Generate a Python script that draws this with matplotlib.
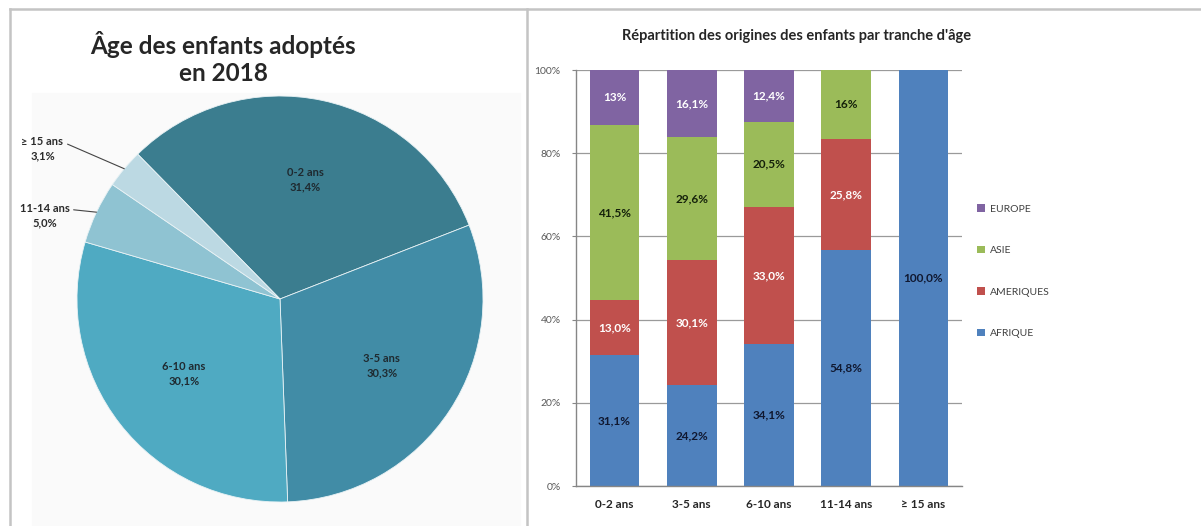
import numpy as np
import matplotlib
matplotlib.use("Agg")
import matplotlib.pyplot as plt
from matplotlib.lines import Line2D
from matplotlib.patches import Rectangle, Patch

plt.rcParams['font.family'] = ['Lato', 'DejaVu Sans']

# --- pie data ---
age_groups = ['0-2 ans', '3-5 ans', '6-10 ans', '11-14 ans', '≥ 15 ans']
age_shares = [31.4, 30.3, 30.1, 5.0, 3.1]
age_labels = ['31,4%', '30,3%', '30,1%', '5,0%', '3,1%']
pie_colors = ['#3b7d8f', '#418ca6', '#4faac2', '#8fc3d2', '#bcd9e3']

# --- stacked bar data (Excel 100% stacked) ---
categories = ['0-2 ans', '3-5 ans', '6-10 ans', '11-14 ans', '≥ 15 ans']
afrique = [31.1, 24.2, 34.1, 54.8, 100.0]
ameriques = [13.0, 30.1, 33.0, 25.8, 0.0]
asie = [41.5, 29.6, 20.5, 16.0, 0.0]
europe = [13.0, 16.1, 12.4, 0.0, 0.0]
afrique_txt = ['31,1%', '24,2%', '34,1%', '54,8%', '100,0%']
ameriques_txt = ['13,0%', '30,1%', '33,0%', '25,8%', '']
asie_txt = ['41,5%', '29,6%', '20,5%', '16%', '']
europe_txt = ['13%', '16,1%', '12,4%', '', '']

W, H = 1201, 526
fig = plt.figure(figsize=(W / 100, H / 100), dpi=100)

def px(x0, y0, w, h):
    # pixel box (top-left origin) -> figure fraction rect
    return [x0 / W, 1 - (y0 + h) / H, w / W, h / H]

# panel frame lines and faint pie background
fig.add_artist(Rectangle((32 / W, 0), (520 - 32) / W, 1 - 93 / H,
                         transform=fig.transFigure, color='#fafafa', zorder=-5))
for xs, ys in [([10 / W, 1], [1 - 9 / H, 1 - 9 / H]),
               ([10 / W, 10 / W], [0, 1 - 9 / H]),
               ([527 / W, 527 / W], [0, 1 - 9 / H])]:
    fig.add_artist(Line2D(xs, ys, color='#c4c4c4', lw=1.8, transform=fig.transFigure))

# ---------------- pie ----------------
ax1 = fig.add_axes(px(77, 96, 406, 406))
ax1.set_facecolor('none')
start = 134.5
wedges, _ = ax1.pie(age_shares, colors=pie_colors, startangle=start, counterclock=False,
                    radius=1, wedgeprops=dict(edgecolor='#e8f2f5', linewidth=0.6))
ax1.set_xlim(-1, 1)
ax1.set_ylim(-1, 1)
ax1.axis('off')

for i, w in enumerate(wedges):
    mid = np.deg2rad((w.theta1 + w.theta2) / 2)
    if i < 3:
        r = 0.6
        ax1.text(r * np.cos(mid), r * np.sin(mid), f"{age_groups[i]}\n{age_labels[i]}",
                 ha='center', va='center', fontsize=8, fontweight='bold',
                 color='#1f2a30', linespacing=1.4)
    else:
        ex, ey = np.cos(mid), np.sin(mid)
        off = (-1.17, 0.74) if i == 4 else (-1.16, 0.41)
        ax1.annotate(f"{age_groups[i]}\n{age_labels[i]}", xy=(ex, ey), xytext=off,
                     ha='center', va='center', fontsize=8, fontweight='bold',
                     color='#2a2a2a', linespacing=1.4, annotation_clip=False,
                     arrowprops=dict(arrowstyle='-', color='#444444', lw=0.8,
                                     relpos=(1.0, 0.75), shrinkA=1, shrinkB=0))

fig.text(223 / W, 1 - 58 / H, "Âge des enfants adoptés\nen 2018", ha='center', va='center',
         fontsize=17.5, fontweight='bold', color='#262626', linespacing=1.25)

# ---------------- stacked bars ----------------
ax2 = fig.add_axes(px(576, 70, 386, 416))
x = np.arange(len(categories))
series = [afrique, ameriques, asie, europe]
texts = [afrique_txt, ameriques_txt, asie_txt, europe_txt]
names = ['AFRIQUE', 'AMERIQUES', 'ASIE', 'EUROPE']
colors = ['#4f81bd', '#c0504d', '#9bbb59', '#8064a2']
txt_colors = ['#101830', 'white', '#14200a', 'white']

data = np.array(series, dtype=float)
totals = data.sum(axis=0)
norm = data / totals * 100
bottom = np.zeros(len(categories))
for k in range(4):
    ax2.bar(x, norm[k], width=0.64, bottom=bottom, color=colors[k], zorder=2)
    for j in range(len(categories)):
        if texts[k][j]:
            ax2.text(x[j], bottom[j] + norm[k][j] / 2, texts[k][j], ha='center', va='center',
                     fontsize=8.5, fontweight='bold', color=txt_colors[k], zorder=3)
    bottom += norm[k]

ax2.set_xlim(-0.5, len(categories) - 0.5)
ax2.set_ylim(0, 100)
ax2.set_yticks(np.arange(0, 101, 20))
ax2.set_yticklabels([f"{v}%" for v in range(0, 101, 20)], fontsize=7.5, color='#595959')
ax2.set_xticks(x)
ax2.set_xticklabels(categories, fontsize=8.5, fontweight='bold', color='#262626')
ax2.tick_params(axis='x', length=0, pad=9)
ax2.tick_params(axis='y', length=3, color='#868686', pad=8)
ax2.grid(axis='y', color='#9a9a9a', lw=0.9, zorder=0)
ax2.set_axisbelow(True)
for s in ['top', 'right']:
    ax2.spines[s].set_visible(False)
for s in ['left', 'bottom']:
    ax2.spines[s].set_color('#868686')
    ax2.spines[s].set_linewidth(1.0)

fig.text(797 / W, 1 - 36 / H, "Répartition des origines des enfants par tranche d'âge",
         ha='center', va='center', fontsize=10.5, fontweight='bold', color='#262626')

handles = [Patch(facecolor=colors[k], edgecolor='none') for k in range(4)][::-1]
fig.legend(handles, names[::-1], loc='upper left', bbox_to_anchor=(972 / W, 1 - 199 / H),
           frameon=False, fontsize=7.5, labelspacing=3.1, handlelength=0.7,
           handleheight=0.7, handletextpad=0.5, borderpad=0, labelcolor='#404040')

fig.savefig('out.png', dpi=100)
